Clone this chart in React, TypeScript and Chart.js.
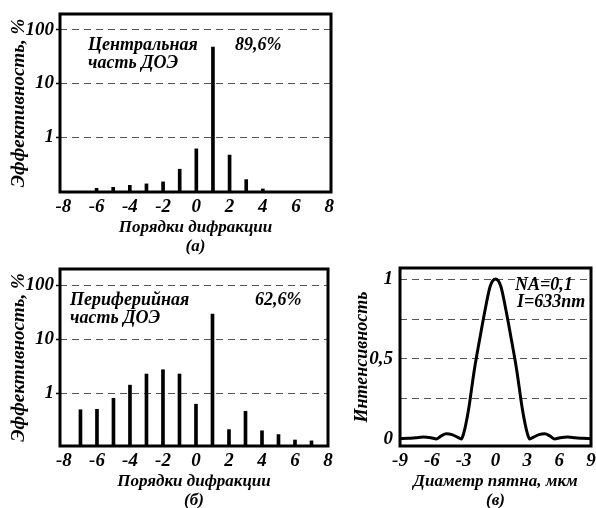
import React, { useEffect, useRef } from 'react';
import { Chart, registerables } from 'chart.js';

Chart.register(...registerables);

// ---------- data ----------
const ordersA = [-6, -5, -4, -3, -2, -1, 0, 1, 2, 3, 4];
const effA = [0.11, 0.115, 0.125, 0.133, 0.145, 0.25, 0.6, 48, 0.46, 0.16, 0.107];

const ordersB = [-7, -6, -5, -4, -3, -2, -1, 0, 1, 2, 3, 4, 5, 6, 7];
const effB = [0.49, 0.5, 0.8, 1.4, 2.25, 2.7, 2.25, 0.62, 29, 0.21, 0.46, 0.2, 0.17, 0.135, 0.13];

const logTicks = [1, 10, 100];
const orderTicks = [-8, -6, -4, -2, 0, 2, 4, 6, 8];

const spotX = [-9, -8.2, -7.5, -6.8, -6.1, -5.55, -5.1, -4.65, -4.1, -3.6, -3.22, -3.0, -2.8, -2.5, -2.0, -1.5, -1.0, -0.5, 0, 0.5, 1.0, 1.5, 2.0, 2.5, 2.8, 3.0, 3.22, 3.6, 4.1, 4.65, 5.1, 5.55, 6.1, 6.8, 7.5, 8.2, 9];
const spotY = [0.002, 0.004, 0.008, 0.012, 0.008, 0.0, 0.02, 0.032, 0.027, 0.012, 0.0, 0.035, 0.09, 0.2, 0.43, 0.62, 0.8, 0.955, 1.0, 0.955, 0.8, 0.62, 0.43, 0.2, 0.09, 0.035, 0.0, 0.012, 0.027, 0.032, 0.02, 0.0, 0.008, 0.012, 0.008, 0.004, 0.002];
const spotXTicks = [-9, -6, -3, 0, 3, 6, 9];
const intensityTicks = [0, 0.25, 0.5, 0.75, 1];
const intensityLabels: Record<string, string> = { '0': '0', '0.5': '0,5', '1': '1' };

// ---------- styles ----------
const FAMILY = '"Liberation Serif", "Times New Roman", serif';
const font = (size: number) => ({ family: FAMILY, size, style: 'italic' as const, weight: 'bold' as const, lineHeight: 1.1 });
const GRID = '#555';
const TICK_SIZE = 19;

const framePlugin = {
  id: 'frame',
  afterDraw(chart: any, _args: any, opts: any) {
    const { ctx, chartArea: a } = chart;
    ctx.save();
    ctx.lineWidth = 3;
    ctx.strokeStyle = '#000';
    ctx.strokeRect(a.left, a.top, a.right - a.left, a.bottom - a.top);
    ctx.font = `italic bold ${opts.size || 17}px ${FAMILY}`;
    ctx.fillStyle = '#000';
    ctx.textBaseline = 'middle';
    (opts.notes || []).forEach((n: any) => {
      ctx.textAlign = n.align || 'left';
      ctx.fillText(n.text, a.left + n.dx, a.top + n.dy);
    });
    ctx.restore();
  },
};

function fixX(h: number) {
  return (s: any) => {
    s.height = h;
    s.paddingLeft = 0;
    s.paddingRight = 0;
  };
}
function fixY(w: number) {
  return (s: any) => {
    s.width = w;
    s.paddingTop = 0;
    s.paddingBottom = 0;
  };
}

function orderAxis(min: number, max: number, caption: string) {
  return {
    type: 'linear',
    offset: false,
    min,
    max,
    afterBuildTicks: (s: any) => {
      s.ticks = orderTicks.map((v) => ({ value: v }));
    },
    afterFit: fixX(64),
    grid: { display: false, drawTicks: false, offset: false },
    border: { display: false },
    ticks: { font: font(TICK_SIZE), color: '#000', padding: 5, maxRotation: 0, autoSkip: false, callback: (v: any) => String(v) },
    title: { display: true, text: ['Порядки дифракции', caption], font: font(17), color: '#000', padding: { top: 0, bottom: 0 } },
  };
}

function effAxis(min: number, max: number) {
  return {
    type: 'logarithmic',
    min,
    max,
    afterBuildTicks: (s: any) => {
      s.ticks = logTicks.map((v) => ({ value: v }));
    },
    afterFit: fixY(60),
    grid: { color: GRID, lineWidth: 1, drawTicks: true, tickLength: 4, tickColor: '#000', tickWidth: 1.5 },
    border: { display: false, dash: [7, 5] },
    ticks: { font: font(TICK_SIZE), color: '#000', padding: 2, autoSkip: false, callback: (v: any) => String(v) },
    title: { display: true, text: 'Эффективность, %', font: font(19), color: '#000', padding: { top: 9, bottom: 0 } },
  };
}

function barConfig(orders: number[], eff: number[], xMin: number, xMax: number, yMin: number, yMax: number, caption: string, pad: any, notes: any[]) {
  return {
    type: 'bar',
    data: {
      datasets: [
        {
          data: orders.map((o, i) => ({ x: o, y: eff[i] })),
          backgroundColor: '#000',
          borderWidth: 0,
          barThickness: 3,
          grouped: false,
        },
      ],
    },
    options: {
      responsive: false,
      animation: false,
      layout: { padding: pad },
      plugins: { legend: { display: false }, tooltip: { enabled: false }, frame: { notes, size: 18 } },
      scales: { x: orderAxis(xMin, xMax, caption), y: effAxis(yMin, yMax) },
    },
    plugins: [framePlugin],
  };
}

function spotConfig() {
  return {
    type: 'line',
    data: {
      datasets: [
        {
          data: spotX.map((x, i) => ({ x, y: spotY[i] })),
          borderColor: '#000',
          borderWidth: 3,
          pointRadius: 0,
          cubicInterpolationMode: 'monotone',
          fill: false,
        },
      ],
    },
    options: {
      responsive: false,
      animation: false,
      layout: { padding: { left: 0, top: 12, right: 5, bottom: 0 } },
      plugins: {
        legend: { display: false },
        tooltip: { enabled: false },
        frame: {
          size: 18,
          notes: [
            { text: 'NA=0,1', dx: 115, dy: 17 },
            { text: 'I=633nm', dx: 117, dy: 34 },
          ],
        },
      },
      scales: {
        x: {
          type: 'linear',
          offset: false,
          min: -9,
          max: 9,
          afterBuildTicks: (s: any) => {
            s.ticks = spotXTicks.map((v) => ({ value: v }));
          },
          afterFit: fixX(64),
          grid: { display: false, drawTicks: false },
          border: { display: false },
          ticks: { font: font(TICK_SIZE), color: '#000', padding: 5, maxRotation: 0, autoSkip: false, callback: (v: any) => String(v) },
          title: { display: true, text: ['Диаметр пятна, мкм', '(в)'], font: font(17), color: '#000', padding: { top: 0, bottom: 0 } },
        },
        y: {
          type: 'linear',
          min: -0.044,
          max: 1.069,
          afterBuildTicks: (s: any) => {
            s.ticks = intensityTicks.map((v) => ({ value: v }));
          },
          afterFit: fixY(60),
          grid: { color: (c: any) => (c.tick && c.tick.value === 0 ? 'rgba(0,0,0,0)' : GRID), lineWidth: 1, drawTicks: false },
          border: { display: false, dash: [7, 5] },
          ticks: { font: font(TICK_SIZE), color: '#000', padding: 7, autoSkip: false, callback: (v: any) => intensityLabels[String(v)] ?? '' },
          title: { display: true, text: 'Интенсивность', font: font(18), color: '#000', padding: { top: 12, bottom: 0 } },
        },
      },
    },
    plugins: [framePlugin],
  };
}

function Panel({ left, top, width, height, make }: { left: number; top: number; width: number; height: number; make: () => any }) {
  const ref = useRef<HTMLCanvasElement | null>(null);
  useEffect(() => {
    if (!ref.current) return;
    const chart = new Chart(ref.current, make());
    return () => chart.destroy();
  }, []);
  return (
    <canvas
      ref={ref}
      width={width}
      height={height}
      style={{ position: 'absolute', left, top, width, height }}
    />
  );
}

export default function App() {
  return (
    <div style={{ position: 'fixed', left: 0, top: 0, width: 596, height: 508, overflow: 'hidden', background: '#fff' }}>
      <Panel
        left={0}
        top={0}
        width={340}
        height={256}
        make={() =>
          barConfig(ordersA, effA, -8.2, 8.1, 0.0938, 199, '(а)', { left: 0, top: 14, right: 9, bottom: 0 }, [
            { text: 'Центральная', dx: 28, dy: 31 },
            { text: 'часть ДОЭ', dx: 28, dy: 49 },
            { text: '89,6%', dx: 175, dy: 31 },
          ])
        }
      />
      <Panel
        left={0}
        top={256}
        width={340}
        height={254}
        make={() =>
          barConfig(ordersB, effB, -8.24, 8.0, 0.1045, 198, '(б)', { left: 0, top: 13, right: 12, bottom: 0 }, [
            { text: 'Периферийная', dx: 10, dy: 31 },
            { text: 'часть ДОЭ', dx: 10, dy: 49 },
            { text: '62,6%', dx: 195, dy: 31 },
          ])
        }
      />
      <Panel left={340} top={256} width={256} height={254} make={spotConfig} />
    </div>
  );
}
